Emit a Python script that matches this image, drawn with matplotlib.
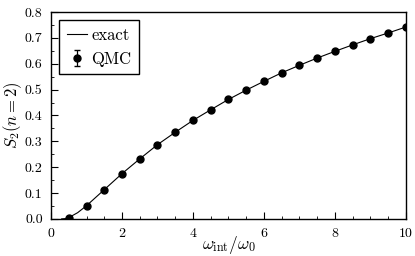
import numpy as np
import matplotlib
matplotlib.use('Agg')
import matplotlib.pyplot as plt
from matplotlib.ticker import MultipleLocator, FormatStrFormatter

plt.rcParams['font.family'] = 'serif'
plt.rcParams['font.serif'] = ['cmr10']
plt.rcParams['mathtext.fontset'] = 'cm'
plt.rcParams['axes.formatter.use_mathtext'] = True
plt.rcParams['font.size'] = 10

# QMC data
qmc_x = [0.5, 1.0, 1.5, 2.0, 2.5, 3.0, 3.5, 4.0, 4.5, 5.0,
         5.5, 6.0, 6.5, 7.0, 7.5, 8.0, 8.5, 9.0, 9.5, 10.0]
qmc_y = [0.005, 0.051, 0.113, 0.175, 0.232, 0.287, 0.335, 0.381, 0.422, 0.462,
         0.498, 0.532, 0.565, 0.594, 0.622, 0.648, 0.673, 0.697, 0.719, 0.742]
qmc_err = [0.002] * len(qmc_x)

# exact curve
exact_x = [0.3, 0.4, 0.5, 0.75, 1.0, 1.5, 2.0, 2.5, 3.0, 3.5, 4.0, 4.5, 5.0,
           5.5, 6.0, 6.5, 7.0, 7.5, 8.0, 8.5, 9.0, 9.5, 10.0]
exact_y = [0.0, 0.001, 0.005, 0.024, 0.051, 0.113, 0.175, 0.232, 0.287, 0.335, 0.381,
           0.422, 0.462, 0.498, 0.532, 0.565, 0.594, 0.622, 0.648, 0.673, 0.697,
           0.719, 0.742]

fig = plt.figure(figsize=(4.15, 2.56), dpi=100)
ax = fig.add_axes([0.123, 0.145, 0.855, 0.808])

ax.plot(exact_x, exact_y, color='black', lw=0.8, label='exact')
ax.errorbar(qmc_x, qmc_y, yerr=qmc_err, fmt='o', color='black', ms=5,
            capsize=2.5, elinewidth=0.9, label='QMC')

ax.set_xlim(0, 10)
ax.set_ylim(0, 0.8)
ax.xaxis.set_major_locator(MultipleLocator(2))
ax.xaxis.set_minor_locator(MultipleLocator(0.5))
ax.yaxis.set_major_locator(MultipleLocator(0.1))
ax.yaxis.set_minor_locator(MultipleLocator(0.05))
ax.yaxis.set_major_formatter(FormatStrFormatter('%.1f'))
ax.tick_params(which='both', direction='in', top=False, right=False,
               labelsize=10)
ax.tick_params(which='major', length=5, pad=6)
ax.tick_params(which='minor', length=2.5)
for s in ax.spines.values():
    s.set_linewidth(1.0)

ax.set_xlabel(r'$\omega_{\rm int}/\omega_0$', fontsize=12.5, va='bottom')
ax.set_ylabel(r'$S_2(n=2)$', fontsize=12)
ax.xaxis.set_label_coords(0.5, -0.178)
ax.yaxis.set_label_coords(-0.075, 0.5)

leg = ax.legend(loc='upper left', fancybox=False, edgecolor='black',
                framealpha=1, handlelength=1.2, handletextpad=0.25,
                borderaxespad=0.5, fontsize=12, borderpad=0.45,
                labelspacing=0.5)
leg.get_frame().set_linewidth(1.0)

fig.savefig('out.png', dpi=100)
